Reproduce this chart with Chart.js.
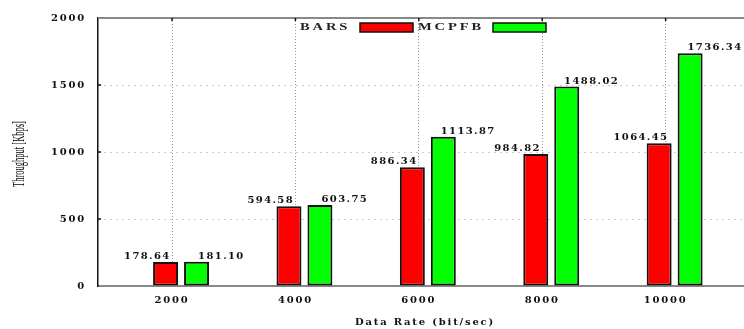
<!DOCTYPE html>
<html>
<head>
<meta charset="utf-8">
<script src="https://cdn.jsdelivr.net/npm/chart.js@4"></script>
<style>
  html, body { margin: 0; padding: 0; background: #fff; overflow: hidden; }
  #wrap { width: 770px; height: 329px; position: relative; }
</style>
</head>
<body>
<div id="wrap"><canvas id="c"></canvas></div>
<script>
// Throughput per data rate for the two schemes
const RATES = ['2000', '4000', '6000', '8000', '10000'];
const BARS = [178.64, 594.58, 886.34, 984.82, 1064.45];
const MCPFB = [181.10, 603.75, 1113.87, 1488.02, 1736.34];
const SERIES_NAMES = ['BARS', 'MCPFB'];
const Y_TICKS = [0, 500, 1000, 1500, 2000];
const X_TITLE = 'Data Rate (bit/sec)';
const Y_TITLE = 'Throughput [Kbps]';

// each pair of bars sits a little to the right of its tick
const GROUP_SHIFT = 0.073;
// value labels: one left of the tick, one right of the pair
const LABEL_SHIFT = [-0.2, 0.4];
const SERIES_COLORS = ['#ff0000', '#00ff00'];

const SERIF_BOLD = { family: '"DejaVu Serif", serif', weight: 'bold', size: 10 };

const decor = {
  id: 'decor',
  beforeDraw(chart) {
    chart.ctx.letterSpacing = '1.8px';
  },
  afterDatasetsDraw(chart) {
    const ctx = chart.ctx;
    const xs = chart.scales.x, ys = chart.scales.y;
    const area = chart.chartArea;

    ctx.save();
    // top frame line with small tick marks
    ctx.strokeStyle = '#888';
    ctx.lineWidth = 2;
    ctx.beginPath();
    ctx.moveTo(area.left, area.top);
    ctx.lineTo(area.right, area.top);
    ctx.stroke();
    ctx.strokeStyle = '#111';
    ctx.lineWidth = 1.5;
    xs.ticks.forEach(t => {
      const px = xs.getPixelForValue(t.value);
      ctx.beginPath();
      ctx.moveTo(px, area.top);
      ctx.lineTo(px, area.top + 3);
      ctx.stroke();
    });
    // inner tick marks on the left axis
    ys.ticks.forEach(t => {
      if (t.value === 0 || t.value === 2000) return;
      const py = ys.getPixelForValue(t.value);
      ctx.beginPath();
      ctx.moveTo(area.left, py);
      ctx.lineTo(area.left + 3, py);
      ctx.stroke();
    });

    // value labels above the bars
    ctx.font = 'bold 10px "DejaVu Serif", serif';
    ctx.letterSpacing = '1.4px';
    ctx.fillStyle = '#111';
    ctx.textAlign = 'center';
    ctx.textBaseline = 'alphabetic';
    chart.data.datasets.forEach((ds, d) => {
      ds.data.forEach((pt, i) => {
        const x = xs.getPixelForValue(i + LABEL_SHIFT[d]);
        const y = ys.getPixelForValue(pt.y) - 3;
        ctx.fillText(pt.y.toFixed(2), x, y);
      });
    });

    // key: name followed by its swatch
    const keyPos = [{ tx: 300, sx: 360 }, { tx: 418, sx: 493 }];
    chart.data.datasets.forEach((ds, d) => {
      const p = keyPos[d];
      ctx.save();
      ctx.translate(p.tx, 27.5);
      ctx.scale(1.45, 1);
      ctx.font = 'bold 10px "Liberation Serif", serif';
      ctx.letterSpacing = '2px';
      ctx.textAlign = 'left';
      ctx.textBaseline = 'middle';
      ctx.fillStyle = '#222';
      ctx.fillText(ds.label, 0, 0);
      ctx.restore();
      ctx.fillStyle = SERIES_COLORS[d];
      ctx.fillRect(p.sx, 23, 53, 9);
      ctx.strokeStyle = '#111';
      ctx.lineWidth = 1.5;
      ctx.strokeRect(p.sx, 23, 53, 9);
    });

    // condensed vertical axis title
    ctx.letterSpacing = '0px';
    ctx.translate(19.5, (area.top + area.bottom) / 2 + 2);
    ctx.rotate(-Math.PI / 2);
    ctx.scale(0.5, 1);
    ctx.font = '17px "Liberation Serif", serif';
    ctx.fillStyle = '#000';
    ctx.textAlign = 'center';
    ctx.textBaseline = 'middle';
    ctx.fillText(Y_TITLE, 0, 0);
    ctx.restore();
  }
};

const makeSeries = (label, values, color) => ({
  label,
  data: values.map((v, i) => ({ x: i + GROUP_SHIFT, y: v })),
  backgroundColor: color,
  borderColor: '#111',
  borderWidth: 2,
  borderSkipped: false,
  categoryPercentage: 0.502,
  barPercentage: 0.806
});

new Chart(document.getElementById('c'), {
  type: 'bar',
  data: {
    datasets: [
      makeSeries(SERIES_NAMES[0], BARS, SERIES_COLORS[0]),
      makeSeries(SERIES_NAMES[1], MCPFB, SERIES_COLORS[1])
    ]
  },
  options: {
    responsive: true,
    maintainAspectRatio: false,
    animation: false,
    layout: { padding: { top: 17, right: 18, left: 0, bottom: 0 } },
    plugins: { legend: { display: false }, tooltip: { enabled: false } },
    scales: {
      x: {
        type: 'linear',
        offset: false,
        min: -0.6,
        max: 4.7,
        afterBuildTicks(s) { s.ticks = RATES.map((_, i) => ({ value: i })); },
        afterFit(s) { s.height = 43; },
        ticks: {
          callback: v => RATES[v],
          font: SERIF_BOLD,
          color: '#111',
          padding: 8,
          maxRotation: 0,
          autoSkip: false
        },
        grid: { offset: false, drawTicks: false, color: '#999', lineWidth: 1 },
        border: { color: '#888', width: 2, dash: [1, 2] },
        title: {
          display: true,
          text: X_TITLE,
          font: SERIF_BOLD,
          color: '#111',
          padding: { top: 0, bottom: 1 }
        }
      },
      y: {
        min: 0,
        max: 2000,
        afterBuildTicks(s) { s.ticks = Y_TICKS.map(v => ({ value: v })); },
        afterFit(s) { s.width = 98; },
        ticks: { font: SERIF_BOLD, color: '#111', padding: 12, callback: v => String(v) },
        grid: {
          drawTicks: false,
          lineWidth: 1,
          color: c => (c.tick && (c.tick.value === 0 || c.tick.value === 2000)) ? 'rgba(0,0,0,0)' : '#999'
        },
        border: { color: '#111', width: 1.5, dash: [1, 5] }
      }
    }
  },
  plugins: [decor]
});
</script>
</body>
</html>
